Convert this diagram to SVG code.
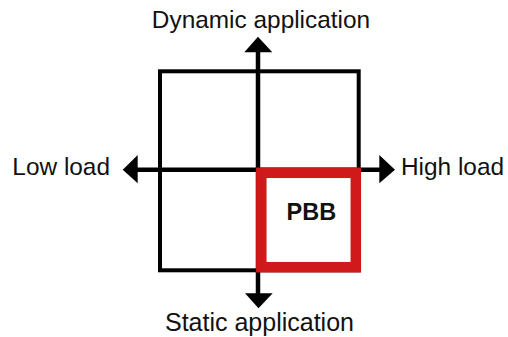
<svg xmlns="http://www.w3.org/2000/svg" width="508" height="337" viewBox="0 0 508 337">
  <style>
    .lbl { font-family: "Liberation Sans", Arial, sans-serif; font-size: 24.4px; fill: #111; }
    .ax { stroke: #000; stroke-width: 4.5; fill: none; }
    .head { fill: #000; }
  </style>
  <rect width="508" height="337" fill="#fff"/>
  <g id="grid">
    <rect x="160" y="71.3" width="198.7" height="199" fill="none" stroke="#000" stroke-width="4"/>
  </g>
  <g id="connectors">
    <line class="ax" x1="258" y1="50" x2="258" y2="270"/>
    <line class="ax" x1="258" y1="270" x2="258" y2="295"/>
    <line class="ax" x1="136" y1="169.7" x2="381" y2="169.7"/>
    <polygon class="head" points="258,36.7 244.3,52.3 272.3,52.3"/>
    <polygon class="head" points="258.5,308.3 245,293.3 272.7,293.3"/>
    <polygon class="head" points="122.7,169.7 137.7,155 137.7,183.3"/>
    <polygon class="head" points="395,169.7 379.3,155 379.3,183.3"/>
  </g>
  <g id="pbb">
    <rect x="261.3" y="172.8" width="94.5" height="94.4" fill="#fff" stroke="#d0191b" stroke-width="10.5"/>
    <text x="311.3" y="220" text-anchor="middle" style="font-family:'Liberation Sans', Arial, sans-serif; font-weight:bold; font-size:23.5px; fill:#111">PBB</text>
  </g>
  <g id="label-dynamic"><text class="lbl" x="261" y="28.3" text-anchor="middle">Dynamic application</text></g>
  <g id="label-static"><text class="lbl" x="259.5" y="331" text-anchor="middle" style="font-size:25px">Static application</text></g>
  <g id="label-low"><text class="lbl" x="110" y="175" text-anchor="end">Low load</text></g>
  <g id="label-high"><text class="lbl" x="401" y="175">High load</text></g>
</svg>
